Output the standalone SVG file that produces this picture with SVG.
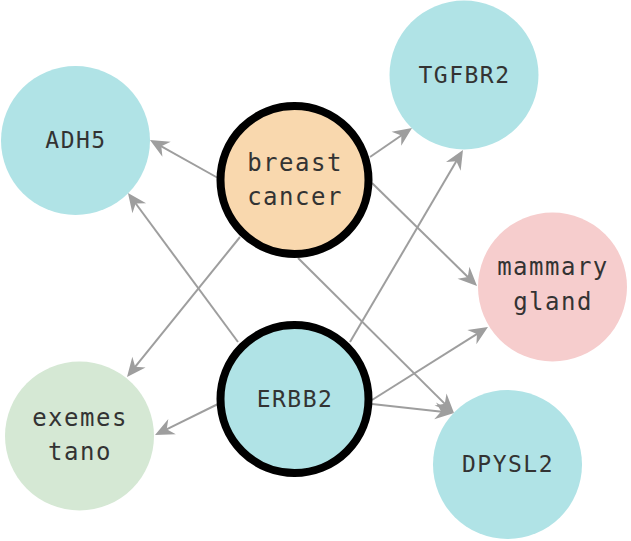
<svg xmlns="http://www.w3.org/2000/svg" width="631" height="541" viewBox="0 0 631 541">
<style>
.edge{stroke:#9e9e9e;stroke-width:2;fill:none;marker-end:url(#arr)}
.gene{fill:#b0e3e6}
.bold{stroke:#000;stroke-width:8}
.t{font-family:"DejaVu Sans Mono","Liberation Mono",monospace;fill:#333;text-anchor:middle}
.big{font-size:24px;letter-spacing:1.5px}
.sm{font-size:23px;letter-spacing:1.5px}
</style>
<defs>
<marker id="arr" markerUnits="userSpaceOnUse" markerWidth="22" markerHeight="20" viewBox="-10 -10 22 20" refX="0" refY="0" orient="auto">
<path d="M10,0 L-9,-8.5 L-3,0 L-9,8.5 Z" fill="#9e9e9e"/>
</marker>
</defs>
<rect width="631" height="541" fill="#fff"/>
<g id="edges">
<line class="edge" x1="218" y1="178" x2="158.7" y2="144.9"/>
<line class="edge" x1="370" y1="157" x2="403.8" y2="133.7"/>
<line class="edge" x1="372" y1="183" x2="469.9" y2="279.0"/>
<line class="edge" x1="240" y1="237" x2="133.3" y2="369.2"/>
<line class="edge" x1="298" y1="258" x2="446.9" y2="405.9"/>
<line class="edge" x1="238" y1="342" x2="133.9" y2="201.0"/>
<line class="edge" x1="350" y1="342" x2="457.9" y2="158.6"/>
<line class="edge" x1="372" y1="400" x2="479.5" y2="332.3"/>
<line class="edge" x1="218" y1="404" x2="164.0" y2="430.6"/>
<line class="edge" x1="372" y1="404" x2="444.1" y2="411.9"/>
</g>
<g id="adh5">
<circle class="gene" cx="75.5" cy="140.5" r="74.5"/>
<text class="t sm" x="76" y="147.5">ADH5</text>
</g>
<g id="tgfbr2">
<circle class="gene" cx="464" cy="75" r="74.5"/>
<text class="t sm" x="464.5" y="82.5">TGFBR2</text>
</g>
<g id="mammary-gland">
<circle fill="#f6cdcd" cx="552.5" cy="287" r="74.5"/>
<text class="t big" x="553" y="275">mammary</text>
<text class="t big" x="553" y="310">gland</text>
</g>
<g id="dpysl2">
<circle class="gene" cx="507.5" cy="464.5" r="74.5"/>
<text class="t sm" x="508" y="472">DPYSL2</text>
</g>
<g id="exemestano">
<circle fill="#d5e8d4" cx="79.5" cy="436" r="74.5"/>
<text class="t big" x="80" y="426">exemes</text>
<text class="t big" x="80" y="460">tano</text>
</g>
<g id="breast-cancer">
<circle class="bold" fill="#f9d8ae" cx="294.5" cy="180" r="74"/>
<text class="t big" x="295" y="171">breast</text>
<text class="t big" x="295" y="205">cancer</text>
</g>
<g id="erbb2">
<circle class="bold gene" cx="294.5" cy="399" r="74"/>
<text class="t sm" x="295" y="407">ERBB2</text>
</g>
</svg>
